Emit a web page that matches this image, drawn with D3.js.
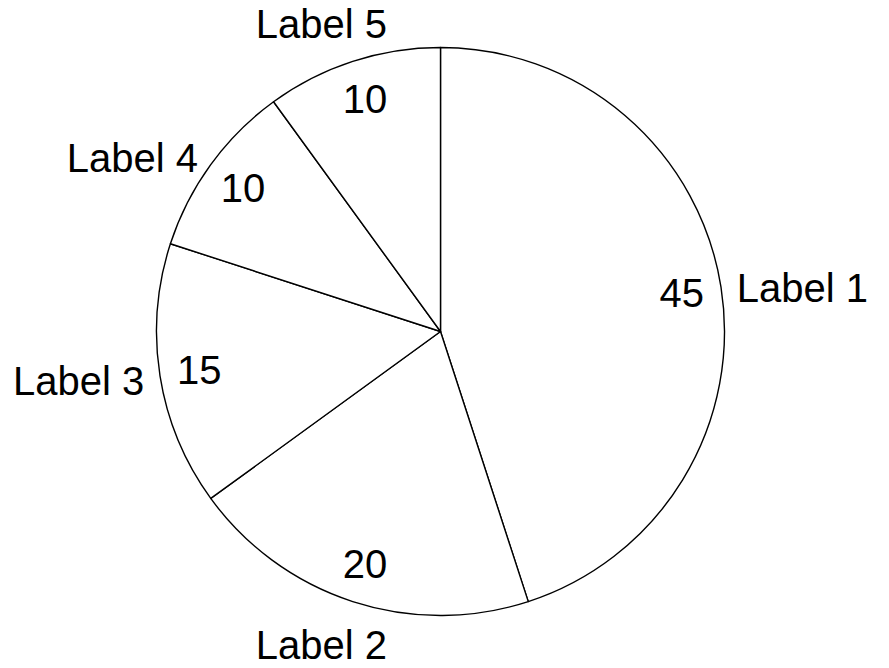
<!DOCTYPE html>
<html>
<head>
<meta charset="utf-8">
<script src="https://cdn.jsdelivr.net/npm/d3@7"></script>
<style>
  html, body { margin: 0; padding: 0; background: #fff; }
  text { font-family: "Liberation Sans", Arial, sans-serif; font-size: 40px; fill: #000; }
</style>
</head>
<body>
<div id="chart"></div>
<script>
const categories = ["Label 1", "Label 2", "Label 3", "Label 4", "Label 5"]
const values = [45, 20, 15, 10, 10]

class PieChart {
  constructor({width, height, radius}) {
    this.width = width
    this.height = height
    this.radius = radius
    this.cx = 440.5
    this.cy = 331.5

    this.svg = this.createSVG()
    this.g = this.svg.append("g")
      .attr("transform", `translate(${this.cx},${this.cy})`)
    this.slices = d3.pie().sort(null).value(d => d.value)(
      categories.map((name, i) => ({name: name, value: values[i]}))
    )
    this.drawSlices()
    this.drawValues()
    this.drawLabels()
  }

  createSVG() {
    return d3.select("#chart")
    .append("svg")
    .attr("width", this.width)
    .attr("height", this.height)
  }

  drawSlices() {
    const arc = d3.arc().innerRadius(0).outerRadius(this.radius)
    this.g.selectAll("path")
    .data(this.slices)
    .enter()
    .append("path")
    .attr("d", arc)
    .attr("fill", "#fff")
    .attr("stroke", "#000")
    .attr("stroke-width", 1.4)
    .attr("stroke-linejoin", "round")
  }

  drawValues() {
    // numbers sit inside the slice, near the rim
    const arc = d3.arc().innerRadius(this.radius * 0.86).outerRadius(this.radius * 0.86)
    this.g.selectAll("text.value")
    .data(this.slices)
    .enter()
    .append("text")
    .attr("class", "value")
    .attr("text-anchor", "middle")
    .attr("dominant-baseline", "central")
    .attr("transform", d => `translate(${arc.centroid(d)})`)
    .text(d => d.data.value)
  }

  drawLabels() {
    const r = this.radius * 1.056
    const labels = this.g.selectAll("text.label")
    .data(this.slices)
    .enter()
    .append("text")
    .attr("class", "label")
    .attr("text-anchor", "middle")
    .attr("dominant-baseline", "central")
    .text(d => d.data.name)

    labels.each(function(d) {
      const mid = (d.startAngle + d.endAngle) / 2
      const sx = Math.sin(mid)
      const sy = -Math.cos(mid)
      const w = this.getComputedTextLength()
      // push the text box away from the circle depending on the direction
      const ox = (w / 2) * Math.max(-1, Math.min(1, sx * 1.3))
      const oy = Math.sign(sy) * 25 * Math.max(0, Math.min(1, (Math.abs(sy) - 0.6) / 0.3)) + 3
      d3.select(this).attr("x", sx * r + ox).attr("y", sy * r + oy)
    })
  }
}

new PieChart({width: 889, height: 668, radius: 284})
</script>
</body>
</html>
